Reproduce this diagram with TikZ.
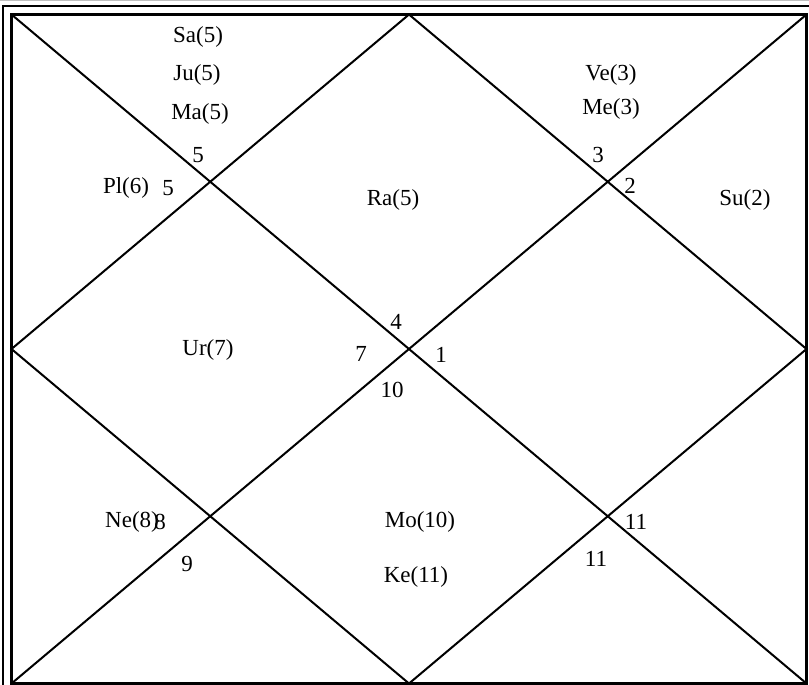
\documentclass[tikz,border=0pt]{standalone}
\usepackage{fontspec}
\setmainfont{Liberation Serif}
\begin{document}
\begin{tikzpicture}[x=1pt,y=-1pt,
  lbl/.style={inner sep=0pt, font=\fontsize{23}{27}\selectfont},
  frame/.style={line width=3pt},
  outerline/.style={line width=2pt},
  diag/.style={line width=2pt}]
\useasboundingbox (0,0) rectangle (809,685);
% corners
\coordinate (tl) at (11.5,14.5);
\coordinate (tr) at (806.5,14.5);
\coordinate (bl) at (11.5,683.5);
\coordinate (br) at (806.5,683.5);
\coordinate (mt) at (409,14.5);
\coordinate (ml) at (11.5,349);
\coordinate (mb) at (409,683.5);
\coordinate (mr) at (806.5,349);
\coordinate (o1) at (3,686);
\coordinate (o2) at (3,6);
\coordinate (o3) at (810,6);
\coordinate (g1) at (0,0.5);
\coordinate (g2) at (809,0.5);
% top gray line
\draw[gray!50, line width=1pt] (g1) -- (g2);
% outer double line
\draw[outerline] (o1) -- (o2) -- (o3);
% inner frame
\draw[frame] (tl) rectangle (br);
% diagonals
\draw[diag] (tl) -- (br);
\draw[diag] (tr) -- (bl);
% diamond
\draw[diag] (mt) -- (mr) -- (mb) -- (ml) -- cycle;
% labels
\node[lbl] (sa) at (198,37) {Sa(5)};
\node[lbl] (ju) at (197,75) {Ju(5)};
\node[lbl] (ma) at (200,114) {Ma(5)};
\node[lbl] (n5a) at (198,155) {5};
\node[lbl] (pl) at (126,188) {Pl(6)};
\node[lbl] (n5b) at (168,188) {5};
\node[lbl] (ra) at (393,200) {Ra(5)};
\node[lbl] (ve) at (611,75) {Ve(3)};
\node[lbl] (me) at (611,109) {Me(3)};
\node[lbl] (n3) at (598,155) {3};
\node[lbl] (n2) at (630,186) {2};
\node[lbl] (su) at (745,200) {Su(2)};
\node[lbl] (n4) at (396,322) {4};
\node[lbl] (n7) at (361,354) {7};
\node[lbl] (n1) at (441,355) {1};
\node[lbl] (n10) at (392,390) {10};
\node[lbl] (ur) at (208,350) {Ur(7)};
\node[lbl] (ne) at (132,522) {Ne(8)};
\node[lbl] (n8) at (160,522) {8};
\node[lbl] (n9) at (187,564) {9};
\node[lbl] (mo) at (420,522) {Mo(10)};
\node[lbl] (ke) at (416,577) {Ke(11)};
\node[lbl] (n11a) at (636,522) {11};
\node[lbl] (n11b) at (596,559) {11};
\end{tikzpicture}
\end{document}
